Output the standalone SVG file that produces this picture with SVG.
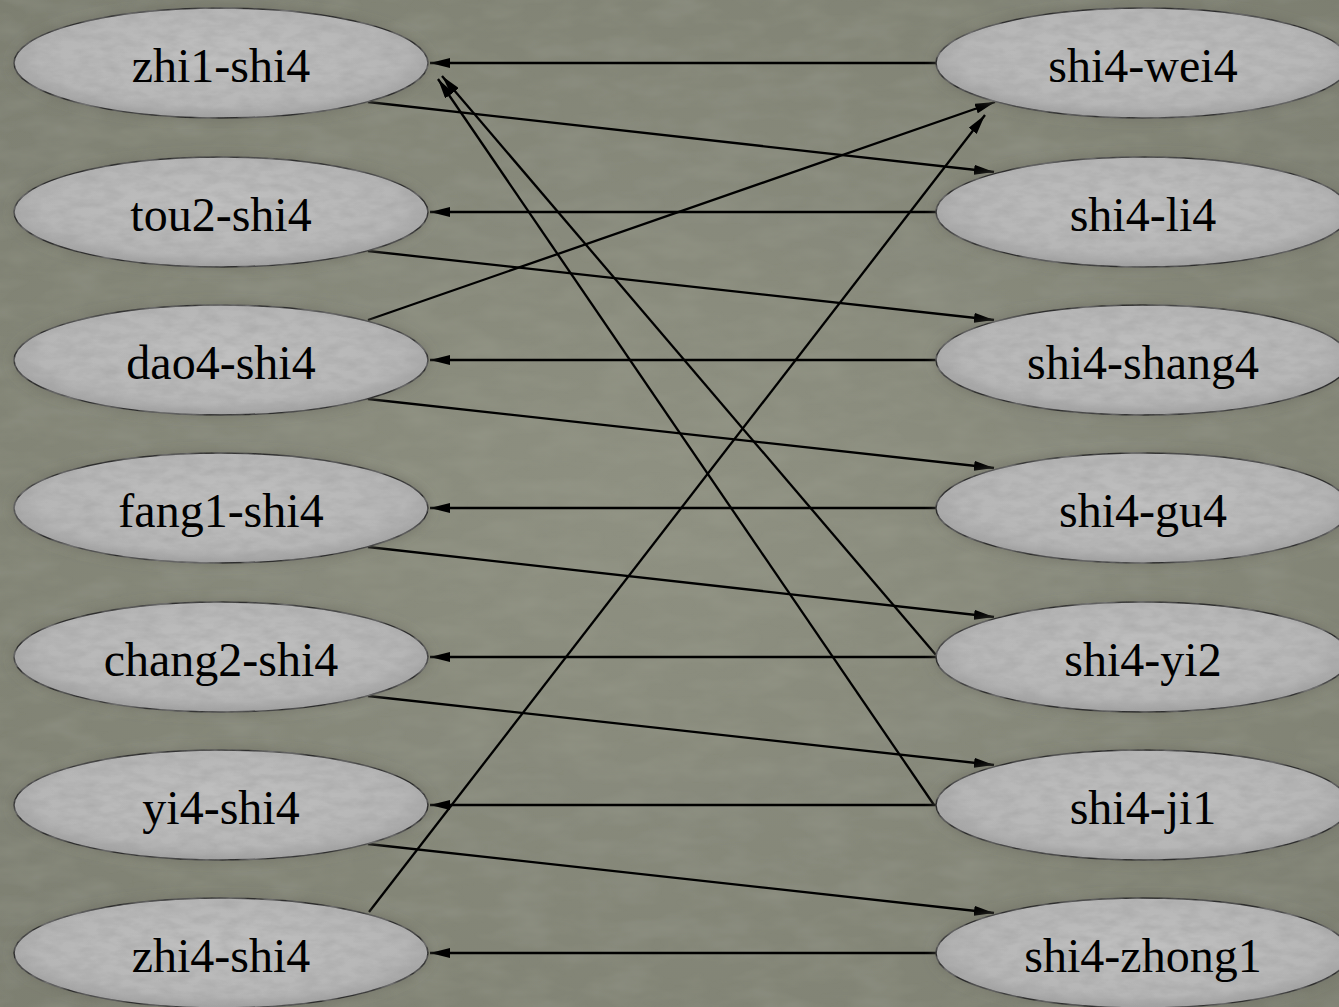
<svg xmlns="http://www.w3.org/2000/svg" width="1339" height="1007" viewBox="0 0 1339 1007">
<defs>
<radialGradient id="bg" cx="50%" cy="50%" r="75%">
<stop offset="0" stop-color="#8f9182"/>
<stop offset="1" stop-color="#7c7e70"/>
</radialGradient>
<radialGradient id="nodefill" cx="50%" cy="45%" r="55%">
<stop offset="0" stop-color="#c0c0c0"/>
<stop offset="0.8" stop-color="#b6b6b6"/>
<stop offset="1" stop-color="#a0a0a0"/>
</radialGradient>
<filter id="bgtex" x="0" y="0" width="100%" height="100%">
<feTurbulence type="fractalNoise" baseFrequency="0.02 0.05" numOctaves="3" seed="7" result="n"/>
<feColorMatrix in="n" type="matrix" values="0 0 0 0 0.35  0 0 0 0 0.36  0 0 0 0 0.3  0 0 0 0.5 -0.18" result="d"/>
<feComposite in="d" in2="SourceGraphic" operator="in" result="dn"/>
<feMerge><feMergeNode in="SourceGraphic"/><feMergeNode in="dn"/></feMerge>
</filter>
<filter id="tex" x="-10%" y="-25%" width="120%" height="150%">
<feGaussianBlur in="SourceAlpha" stdDeviation="6" result="b"/>
<feColorMatrix in="b" type="matrix" values="0 0 0 0 0.15  0 0 0 0 0.15  0 0 0 0 0.12  0 0 0 0.7 0" result="sh"/>
<feTurbulence type="fractalNoise" baseFrequency="0.05 0.12" numOctaves="3" seed="3" result="n"/>
<feColorMatrix in="n" type="matrix" values="0 0 0 0 0.35  0 0 0 0 0.35  0 0 0 0 0.35  0 0 0 0.9 -0.3" result="d"/>
<feComposite in="d" in2="SourceGraphic" operator="in" result="dn"/>
<feMerge><feMergeNode in="sh"/><feMergeNode in="SourceGraphic"/><feMergeNode in="dn"/></feMerge>
</filter>
<marker id="arr" viewBox="0 0 20 10" refX="20" refY="5" markerWidth="20" markerHeight="10" markerUnits="userSpaceOnUse" orient="auto">
<path d="M0,0 L20,5 L0,10 z" fill="#000"/>
</marker>
<style>
.node ellipse { fill: url(#nodefill); stroke: #2e2e2e; stroke-width: 1.5; filter: url(#tex); }
.node text { font-family: "Liberation Serif", "DejaVu Serif", serif; font-size: 48px; fill: #000; text-anchor: middle; }
.edges line { stroke: #000; stroke-width: 2.3; marker-end: url(#arr); }
</style>
</defs>
<rect width="1339" height="1007" fill="url(#bg)" filter="url(#bgtex)"/>

<g class="edges">
<line x1="936" y1="63" x2="430" y2="63"/>
<line x1="936" y1="212" x2="430" y2="212"/>
<line x1="936" y1="360" x2="430" y2="360"/>
<line x1="936" y1="508" x2="430" y2="508"/>
<line x1="936" y1="657" x2="430" y2="657"/>
<line x1="936" y1="805" x2="430" y2="805"/>
<line x1="936" y1="953" x2="430" y2="953"/>
<line x1="368" y1="102" x2="994" y2="172"/>
<line x1="368" y1="251" x2="994" y2="320"/>
<line x1="368" y1="399" x2="994" y2="468"/>
<line x1="368" y1="547" x2="994" y2="617"/>
<line x1="368" y1="696" x2="994" y2="765"/>
<line x1="368" y1="844" x2="994" y2="913"/>
<line x1="368" y1="320" x2="995" y2="102"/>
<line x1="369" y1="912" x2="985" y2="115"/>
<line x1="936" y1="655" x2="442" y2="76"/>
<line x1="934" y1="805" x2="438" y2="79"/>
</g>

<g id="n-zhi1-shi4" class="node"><ellipse cx="221" cy="63" rx="207" ry="55"/><text x="221" y="82">zhi1-shi4</text></g>
<g id="n-tou2-shi4" class="node"><ellipse cx="221" cy="212" rx="207" ry="55"/><text x="221" y="231">tou2-shi4</text></g>
<g id="n-dao4-shi4" class="node"><ellipse cx="221" cy="360" rx="207" ry="55"/><text x="221" y="379">dao4-shi4</text></g>
<g id="n-fang1-shi4" class="node"><ellipse cx="221" cy="508" rx="207" ry="55"/><text x="221" y="527">fang1-shi4</text></g>
<g id="n-chang2-shi4" class="node"><ellipse cx="221" cy="657" rx="207" ry="55"/><text x="221" y="676">chang2-shi4</text></g>
<g id="n-yi4-shi4" class="node"><ellipse cx="221" cy="805" rx="207" ry="55"/><text x="221" y="824">yi4-shi4</text></g>
<g id="n-zhi4-shi4" class="node"><ellipse cx="221" cy="953" rx="207" ry="55"/><text x="221" y="972">zhi4-shi4</text></g>

<g id="n-shi4-wei4" class="node"><ellipse cx="1143" cy="63" rx="207" ry="55"/><text x="1143" y="82">shi4-wei4</text></g>
<g id="n-shi4-li4" class="node"><ellipse cx="1143" cy="212" rx="207" ry="55"/><text x="1143" y="231">shi4-li4</text></g>
<g id="n-shi4-shang4" class="node"><ellipse cx="1143" cy="360" rx="207" ry="55"/><text x="1143" y="379">shi4-shang4</text></g>
<g id="n-shi4-gu4" class="node"><ellipse cx="1143" cy="508" rx="207" ry="55"/><text x="1143" y="527">shi4-gu4</text></g>
<g id="n-shi4-yi2" class="node"><ellipse cx="1143" cy="657" rx="207" ry="55"/><text x="1143" y="676">shi4-yi2</text></g>
<g id="n-shi4-ji1" class="node"><ellipse cx="1143" cy="805" rx="207" ry="55"/><text x="1143" y="824">shi4-ji1</text></g>
<g id="n-shi4-zhong1" class="node"><ellipse cx="1143" cy="953" rx="207" ry="55"/><text x="1143" y="972">shi4-zhong1</text></g>
</svg>
